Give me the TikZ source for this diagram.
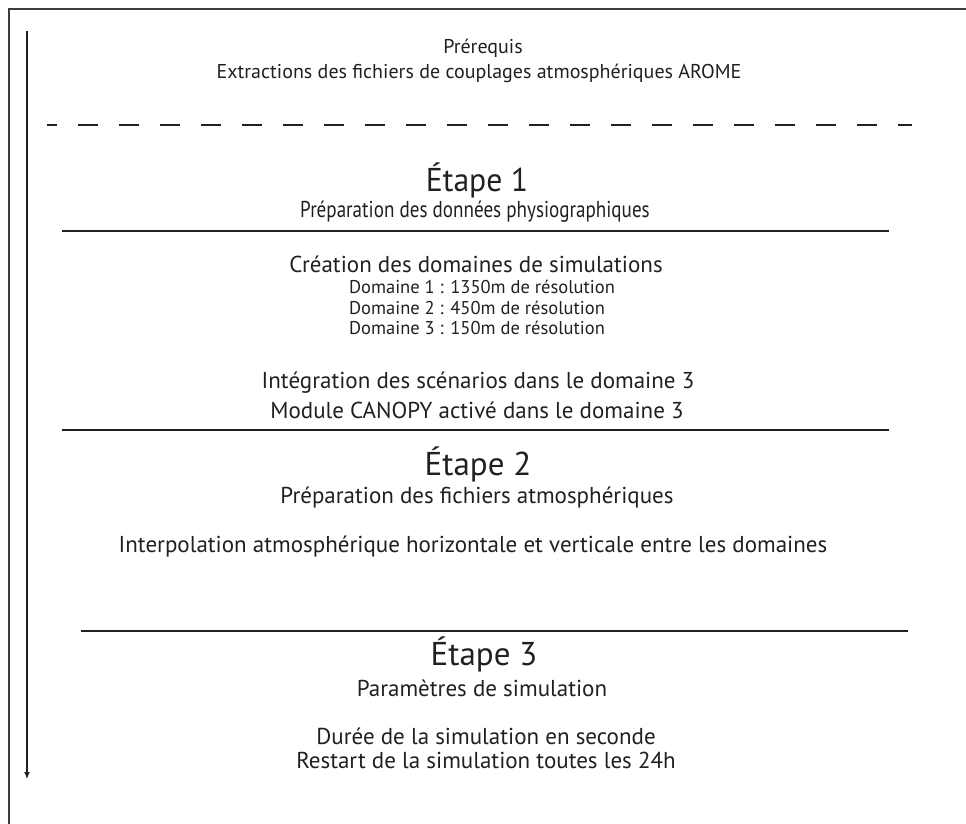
\documentclass[tikz,border=0pt]{standalone}
\usepackage{fontspec}
\setmainfont{PT Sans}
\usepackage{tikz}
\usetikzlibrary{arrows.meta,positioning}
\definecolor{flink}{RGB}{35,31,32}
\definecolor{flframe}{RGB}{60,60,60}
\tikzset{
  txt/.style={text=flink, inner sep=0pt, align=center, font=\fontsize{20}{23}\selectfont},
  small/.style={txt, font=\fontsize{18.5}{21}\selectfont},
  sub/.style={txt, font=\fontsize{23}{26}\selectfont},
  mid/.style={txt, font=\fontsize{23}{26}\selectfont},
  head/.style={txt, font=\fontsize{33}{37}\selectfont},
  rule/.style={draw=flink, line width=1.3pt},
  dashrule/.style={draw=flink, line width=1.3pt, dash pattern=on 20pt off 21pt, dash phase=10pt},
  frame/.style={draw=flframe, line width=1.8pt},
  arr/.style={-{Latex[length=7pt,width=6pt]}, draw=flink, line width=1.2pt}
}
\begin{document}
\begin{tikzpicture}[x=1pt, y=-1pt]
  \useasboundingbox (0,0) rectangle (966,824);
  % cadre
  \draw[frame] (9,830) -- (9,9) -- (970,9);
  % fleche du temps
  \coordinate (tdeb) at (27,31);
  \coordinate (tfin) at (27,779);
  \draw[arr] (tdeb) -- (tfin);

  % prerequis
  \node[txt] (prereq) at (483,48) {Prérequis};
  \node[txt] (extract) at (479,73) {Extractions des fichiers de couplages atmosphériques AROME};
  \draw[dashrule] (47,125) -- (912,125);

  % etape 1
  \node[head] (et1) at (477,180) {\scalebox{0.96}[1]{Étape 1}};
  \node[sub] (et1sub) at (475,212) {\scalebox{0.83}[1]{Préparation des données physiographiques}};
  \draw[rule] (62,231) -- (889,231);
  \node[mid] (creation) at (476,264) {Création des domaines de simulations};
  \node[small] (dom1) at (482,287) {Domaine 1 : 1350m de résolution};
  \node[small] (dom2) at (477,308) {Domaine 2 : 450m de résolution};
  \node[small] (dom3) at (477,328) {Domaine 3 : 150m de résolution};
  \node[mid] (integ) at (478,383) {Intégration des scénarios dans le domaine 3};
  \node[mid] (canopy) at (477,410) {Module CANOPY activé dans le domaine 3};
  \draw[rule] (62,430) -- (889,430);

  % etape 2
  \node[head] (et2) at (478,464) {Étape 2};
  \node[sub] (et2sub) at (477,498) {Préparation des fichiers atmosphériques};
  \node[mid] (interp) at (473,547) {Interpolation atmosphérique horizontale et verticale entre les domaines};
  \draw[rule] (81,631) -- (908,631);

  % etape 3
  \node[head] (et3) at (484,654) {Étape 3};
  \node[sub] (et3sub) at (482,688) {Paramètres de simulation};
  \node[mid] (duree) at (486,736) {Durée de la simulation en seconde};
  \node[mid] (restart) at (486,760) {Restart de la simulation toutes les 24h};
\end{tikzpicture}
\end{document}
